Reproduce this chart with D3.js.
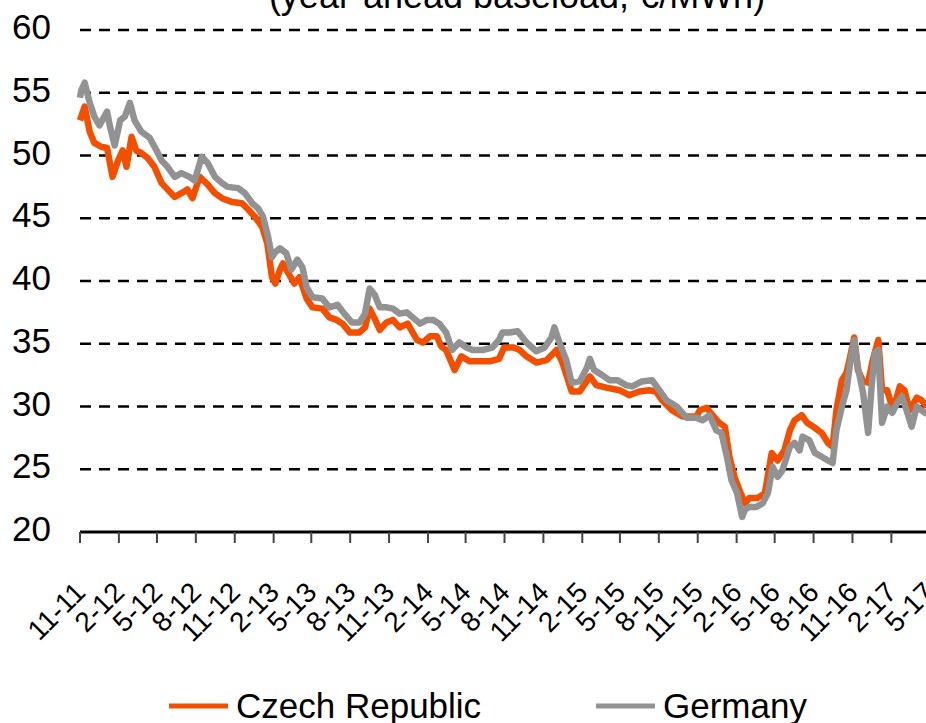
<!DOCTYPE html>
<html lang="en">
  <head>
    <meta charset="utf-8">
    <title>Year-ahead baseload power prices</title>
    <script src="https://d3js.org/d3.v7.min.js"></script>
    <style>
      html, body {
        margin: 0;
        padding: 0;
        background: #fff;
      }
      svg {
        display: block;
        font-family: "Liberation Sans", Arial, sans-serif;
      }
      .grid line {
        stroke: #000;
        stroke-width: 2.5;
        stroke-dasharray: 11,8;
      }
      .ylab {
        font-size: 35px;
        fill: #000;
      }
      .xlab {
        font-size: 28px;
        fill: #000;
      }
      .series {
        fill: none;
        stroke-width: 6.5;
        stroke-linejoin: round;
      }
      .legend text {
        font-size: 35px;
        fill: #000;
      }
    </style>
  </head>
  <body>
    <div id="chart"></div>
    <script>
      // year-ahead baseload, EUR/MWh
      var czDates = ["2011-11-01","2011-11-12","2011-11-24","2011-12-05","2011-12-21","2012-01-04","2012-01-17","2012-01-30",
        "2012-02-10","2012-02-19","2012-03-02","2012-03-13","2012-03-25","2012-04-09","2012-04-25","2012-05-12","2012-05-26",
        "2012-06-12","2012-06-28","2012-07-12","2012-07-24","2012-08-10","2012-08-26","2012-09-15","2012-10-02","2012-10-25",
        "2012-11-18","2012-12-03","2012-12-19","2013-01-05","2013-01-17","2013-01-28","2013-02-05","2013-02-16","2013-02-23",
        "2013-03-03","2013-03-22","2013-04-03","2013-04-20","2013-05-04","2013-05-27","2013-06-13","2013-06-30","2013-07-14",
        "2013-07-31","2013-08-23","2013-09-05","2013-09-16","2013-09-28","2013-10-10","2013-10-26","2013-11-10","2013-11-26",
        "2013-12-15","2014-01-06","2014-01-20","2014-02-06","2014-02-22","2014-03-04","2014-03-16","2014-04-05","2014-04-21",
        "2014-05-10","2014-06-03","2014-06-27","2014-07-19","2014-07-31","2014-08-23","2014-09-06","2014-09-22","2014-10-15",
        "2014-11-09","2014-12-02","2014-12-16","2015-01-07","2015-01-26","2015-02-19","2015-03-06","2015-03-30","2015-04-30",
        "2015-05-23","2015-06-16","2015-07-09","2015-07-25","2015-08-09","2015-09-01","2015-09-26","2015-10-29","2015-11-06",
        "2015-11-22","2015-12-06","2015-12-22","2016-01-04","2016-01-15","2016-01-27","2016-02-08","2016-02-21","2016-03-02",
        "2016-03-21","2016-04-08","2016-04-24","2016-05-08","2016-05-24","2016-06-06","2016-06-17","2016-07-04","2016-07-17",
        "2016-08-04","2016-08-20","2016-09-04","2016-09-15","2016-09-24","2016-10-07","2016-10-18","2016-10-25","2016-11-05",
        "2016-11-14","2016-11-26","2016-12-08","2016-12-19","2017-01-01","2017-01-10","2017-01-22","2017-02-05","2017-02-21",
        "2017-03-04","2017-03-16","2017-04-02","2017-04-13","2017-04-26"];
      var czValues = [52.8,53.9,51.9,51.0,50.7,50.6,48.3,49.6,
        50.4,49.1,51.5,50.4,50.2,49.8,49.1,47.8,47.3,
        46.7,47.0,47.3,46.6,48.3,47.8,47.0,46.6,46.3,
        46.2,45.7,45.1,44.3,43.0,40.3,39.8,40.9,41.4,
        40.9,39.8,40.3,38.6,37.9,37.8,37.1,36.9,36.6,
        35.9,35.9,36.3,37.8,37.0,36.1,36.7,36.9,36.3,
        36.6,35.3,35.1,35.6,35.6,34.8,34.5,32.9,34.0,
        33.6,33.6,33.6,33.8,34.7,34.7,34.5,34.0,33.5,
        33.7,34.5,33.5,31.2,31.2,32.4,31.7,31.5,31.3,
        30.9,31.2,31.3,31.2,30.5,29.7,29.2,29.2,29.7,
        29.9,29.3,28.7,28.4,26.0,24.4,23.3,22.3,22.7,
        22.7,23.1,26.3,25.7,26.5,28.1,28.9,29.3,28.7,
        28.3,27.9,27.1,26.8,29.7,32.1,32.7,33.7,35.5,
        32.9,32.0,31.9,33.7,35.3,31.3,31.3,29.7,31.6,
        31.3,29.7,30.7,30.5,30.0];

      var deDates = ["2011-11-01","2011-11-04","2011-11-12","2011-11-24","2011-12-05","2011-12-17","2012-01-04","2012-01-11",
        "2012-01-22","2012-02-04","2012-02-15","2012-02-27","2012-03-09","2012-03-25","2012-04-14","2012-04-30","2012-05-12",
        "2012-05-26","2012-06-12","2012-06-28","2012-07-17","2012-07-29","2012-08-15","2012-08-29","2012-09-15","2012-10-02",
        "2012-10-15","2012-11-09","2012-11-25","2012-12-12","2012-12-26","2013-01-07","2013-01-19","2013-01-28","2013-02-05",
        "2013-02-16","2013-03-03","2013-03-15","2013-03-29","2013-04-10","2013-04-20","2013-05-04","2013-05-27","2013-06-13",
        "2013-07-02","2013-07-18","2013-08-05","2013-08-23","2013-09-05","2013-09-16","2013-09-28","2013-10-10","2013-10-26",
        "2013-11-10","2013-11-26","2013-12-13","2013-12-27","2014-01-13","2014-01-30","2014-02-13","2014-02-28","2014-03-16",
        "2014-03-30","2014-04-16","2014-05-03","2014-05-17","2014-06-10","2014-07-03","2014-07-19","2014-07-27","2014-08-13",
        "2014-09-01","2014-09-22","2014-10-15","2014-11-04","2014-11-20","2014-11-27","2014-12-09","2014-12-25","2015-01-07",
        "2015-01-26","2015-02-12","2015-02-19","2015-03-01","2015-03-20","2015-04-06","2015-04-25","2015-05-15","2015-05-30",
        "2015-06-22","2015-07-16","2015-08-02","2015-08-19","2015-09-12","2015-10-06","2015-10-29","2015-11-12","2015-11-29",
        "2015-12-15","2015-12-27","2016-01-09","2016-01-20","2016-02-02","2016-02-14","2016-02-21","2016-03-02","2016-03-19",
        "2016-04-03","2016-04-15","2016-04-26","2016-05-08","2016-05-19","2016-06-06","2016-06-17","2016-06-29","2016-07-06",
        "2016-07-22","2016-08-04","2016-08-20","2016-09-04","2016-09-15","2016-09-24","2016-10-07","2016-10-18","2016-10-25",
        "2016-11-05","2016-11-14","2016-11-26","2016-12-08","2016-12-17","2016-12-24","2017-01-01","2017-01-10","2017-01-22",
        "2017-02-03","2017-02-15","2017-02-26","2017-03-09","2017-03-21","2017-04-02","2017-04-13","2017-04-26"];
      var deValues = [54.6,55.2,55.8,54.2,53.1,52.4,53.5,52.3,
        50.8,52.8,53.1,54.2,52.8,51.9,51.4,50.4,49.6,
        49.1,48.3,48.6,48.3,48.0,49.9,49.4,48.3,47.8,
        47.5,47.4,47.0,46.2,45.8,45.1,43.5,41.9,42.3,
        42.6,42.2,40.9,41.7,41.1,39.5,38.7,38.6,37.9,
        38.1,37.4,36.7,36.7,37.4,39.4,38.9,37.9,37.9,
        37.8,37.4,37.5,37.1,36.6,36.9,36.9,36.6,35.9,
        34.5,35.1,34.7,34.5,34.5,34.7,35.3,35.9,35.9,
        36.0,35.1,34.4,34.7,35.5,36.3,35.1,33.7,31.9,
        32.0,33.1,33.8,32.9,32.5,32.1,32.1,31.7,31.6,
        32.0,32.1,31.3,30.5,30.0,29.1,29.1,28.9,29.3,
        28.1,27.9,26.0,24.1,23.1,21.2,21.8,22.0,22.0,
        22.3,23.1,25.2,24.4,24.9,26.8,27.1,26.5,27.6,
        27.3,26.3,26.0,25.7,25.5,28.1,30.0,31.3,33.1,
        35.3,33.1,31.1,27.9,31.9,34.3,34.5,28.7,30.0,
        29.5,30.3,30.8,29.7,28.4,30.0,29.7,29.4];

      var yTicks = [20, 25, 30, 35, 40, 45, 50, 55, 60];
      var xTickLabels = ["11-11","2-12","5-12","8-12","11-12","2-13","5-13","8-13","11-13","2-14","5-14","8-14",
        "11-14","2-15","5-15","8-15","11-15","2-16","5-16","8-16","11-16","2-17","5-17"];
      var seriesNames = ["Czech Republic", "Germany"];
      var seriesColors = ["#f24f00", "#929292"];

      var width = 926,
          height = 723;

      var parse = d3.timeParse("%Y-%m-%d");
      var cz = czDates.map(function(d, i) { return {date: parse(d), value: czValues[i]}; });
      var de = deDates.map(function(d, i) { return {date: parse(d), value: deValues[i]}; });
      var tickDates = xTickLabels.map(function(l) {
        var p = l.split("-");
        return new Date(2000 + +p[1], +p[0] - 1, 1);
      });

      var x = d3.scaleTime()
          .domain([parse("2011-11-01"), parse("2017-05-01")])
          .range([80, 929]);
      var y = d3.scaleLinear()
          .domain([20, 60])
          .range([532, 30]);

      var svg = d3.select("#chart").append("svg")
          .attr("width", width)
          .attr("height", height);

      // title, mostly cut off at the top edge
      svg.append("text")
          .attr("x", 517)
          .attr("y", 8)
          .attr("text-anchor", "middle")
          .style("font-size", "36px")
          .text("(year-ahead baseload, €/MWh)");

      svg.append("g")
          .attr("class", "grid")
          .selectAll("line")
          .data(yTicks.filter(function(d) { return d > 20; }))
          .enter().append("line")
          .attr("x1", 80)
          .attr("x2", width)
          .attr("y1", function(d) { return y(d); })
          .attr("y2", function(d) { return y(d); });

      svg.append("g")
          .selectAll("text")
          .data(yTicks)
          .enter().append("text")
          .attr("class", "ylab")
          .attr("x", 51)
          .attr("y", function(d) { return y(d) + 9; })
          .attr("text-anchor", "end")
          .text(function(d) { return d; });

      var line = d3.line()
          .x(function(d) { return x(d.date); })
          .y(function(d) { return y(d.value); });

      svg.append("path")
          .datum(cz)
          .attr("class", "series")
          .attr("stroke", seriesColors[0])
          .attr("d", line);
      svg.append("path")
          .datum(de)
          .attr("class", "series")
          .attr("stroke", seriesColors[1])
          .attr("d", line);

      // x axis
      svg.append("line")
          .attr("x1", 80)
          .attr("x2", width)
          .attr("y1", y(20))
          .attr("y2", y(20))
          .attr("stroke", "#000")
          .attr("stroke-width", 3);

      var ticks = svg.append("g").selectAll("g")
          .data(tickDates)
          .enter().append("g")
          .attr("transform", function(d) { return "translate(" + x(d) + ",0)"; });
      ticks.append("line")
          .attr("y1", y(20))
          .attr("y2", y(20) + 11)
          .attr("stroke", "#444")
          .attr("stroke-width", 2);
      ticks.append("text")
          .attr("class", "xlab")
          .attr("text-anchor", "end")
          .attr("transform", "translate(7,594) rotate(-45)")
          .text(function(d, i) { return xTickLabels[i]; });

      // legend
      var legend = svg.append("g")
          .attr("class", "legend")
          .selectAll("g")
          .data(seriesNames)
          .enter().append("g")
          .attr("transform", function(d, i) { return "translate(" + [169, 596][i] + ",706)"; });
      legend.append("line")
          .attr("x1", 0)
          .attr("x2", 59)
          .attr("stroke", function(d, i) { return seriesColors[i]; })
          .attr("stroke-width", 5);
      legend.append("text")
          .attr("x", 67)
          .attr("y", 12)
          .text(function(d) { return d; });
    </script>
  </body>
</html>
